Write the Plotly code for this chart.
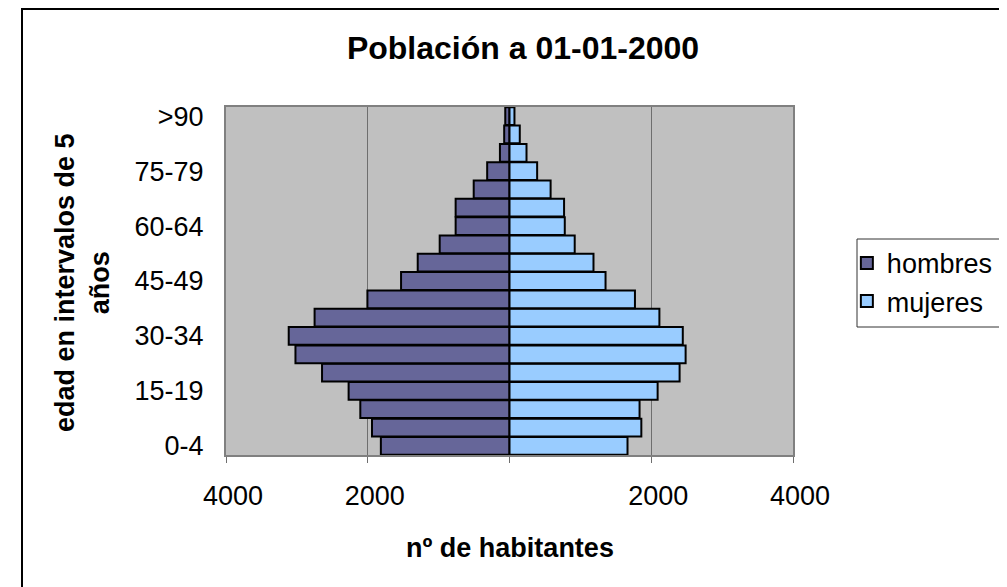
import plotly.graph_objects as go

# grupos de edad, de abajo arriba
grupos = ["0-4", "5-9", "10-14", "15-19", "20-24", "25-29", "30-34", "35-39",
          "40-44", "45-49", "50-54", "55-59", "60-64", "65-69", "70-74",
          "75-79", "80-84", "85-89", ">90"]
hombres = [1815, 1940, 2105, 2270, 2645, 3020, 3115, 2750, 2005, 1530,
           1295, 985, 760, 760, 505, 315, 135, 75, 60]
mujeres = [1665, 1860, 1835, 2090, 2400, 2485, 2445, 2115, 1770, 1355,
           1185, 920, 780, 770, 580, 390, 240, 145, 70]
etiquetas_y = ["0-4", "15-19", "30-34", "45-49", "60-64", "75-79", ">90"]
ticks_x = [-4000, -2000, 0, 2000, 4000]
texto_x = ["4000", "2000", "", "2000", "4000"]

FUENTE = "Liberation Sans, Arial, sans-serif"

fig = go.Figure()
fig.add_bar(y=grupos, x=[-v for v in hombres], orientation="h", name="hombres",
            marker=dict(color="#666699", line=dict(color="black", width=2)))
fig.add_bar(y=grupos, x=mujeres, orientation="h", name="mujeres",
            marker=dict(color="#99CCFF", line=dict(color="black", width=2)))

# la pagina tiene 8px de margen en el body -> figura de 999x579
fig.update_layout(
    width=999, height=579,
    margin=dict(l=218, r=214, t=99, b=132, autoexpand=False),
    paper_bgcolor="white", plot_bgcolor="#C0C0C0",
    barmode="relative", bargap=0.03,
    font=dict(family=FUENTE, size=27, color="black"),
    title=dict(text="<b>Población a 01-01-2000</b>", x=515 / 999, xanchor="center",
               y=1 - 40 / 579, yanchor="middle", font=dict(size=32)),
    # leyenda desplazada a la izquierda; el marco se dibuja aparte
    legend=dict(x=1.095, y=0.621, xanchor="left", yanchor="top",
                borderwidth=0, bgcolor="rgba(0,0,0,0)",
                font=dict(size=27), itemwidth=30),
    showlegend=True,
)
fig.update_xaxes(range=[-4000, 4000], tickvals=ticks_x, ticktext=texto_x,
                 showgrid=True, gridcolor="#6E6E6E", gridwidth=1,
                 zeroline=False, ticks="outside", ticklen=6, tickcolor="#6E6E6E",
                 showline=True, linecolor="#808080", linewidth=2, mirror=True,
                 ticklabelstandoff=10, ticklabelshift=7)
fig.update_yaxes(categoryorder="array", categoryarray=grupos,
                 tickvals=etiquetas_y, ticks="", showgrid=False,
                 showline=True, linecolor="#808080", linewidth=2, mirror=True,
                 ticklabelstandoff=15)

fig.add_annotation(text="<b>edad en intervalos de 5<br>años</b>", textangle=-90,
                   xref="paper", yref="paper", x=(82 - 226) / 567, y=(455 - 283) / 348,
                   xanchor="center", yanchor="middle", showarrow=False,
                   font=dict(size=27))
fig.add_annotation(text="<b>nº de habitantes</b>", xref="paper", yref="paper",
                   x=(510 - 226) / 567, y=(455 - 548) / 348,
                   xanchor="center", yanchor="middle", showarrow=False,
                   font=dict(size=27))
fig.add_shape(type="rect", xref="paper", yref="paper",
              x0=(22 - 226) / 567, x1=2.0, y0=-2.0, y1=(455 - 9) / 348,
              line=dict(color="black", width=2), layer="below")
# marco de la leyenda
fig.add_shape(type="rect", xref="paper", yref="paper",
              x0=(857 - 226) / 567, x1=(1020 - 226) / 567,
              y0=(455 - 327) / 348, y1=(455 - 239) / 348,
              line=dict(color="#333333", width=1), layer="below")

fig.write_html("out.html")
